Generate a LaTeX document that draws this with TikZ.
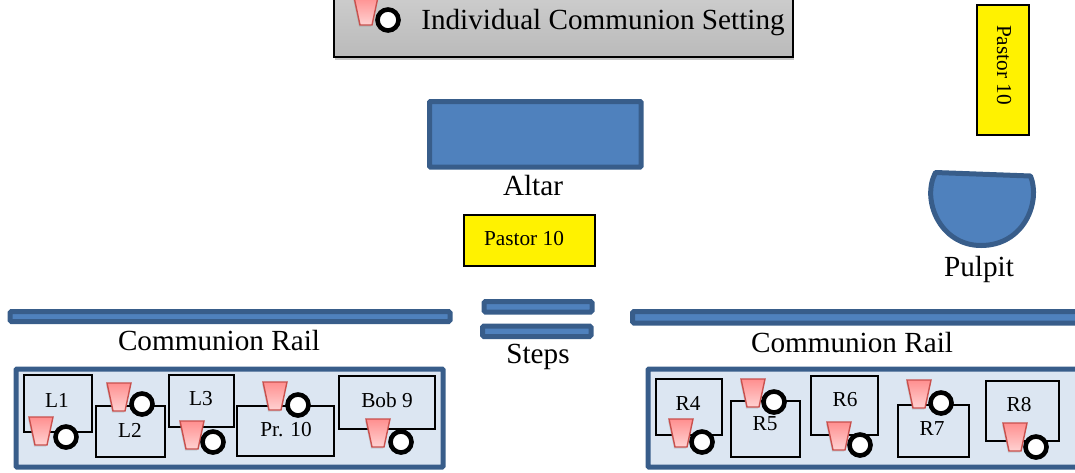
\documentclass[tikz,border=0pt]{standalone}
\usepackage{fontspec}
\setmainfont{Liberation Serif}
\usetikzlibrary{shadows}
\definecolor{furnfill}{HTML}{4F81BD}
\definecolor{furnline}{HTML}{385D8A}
\definecolor{panelfill}{HTML}{DCE6F2}
\definecolor{cupline}{HTML}{C9504D}
\definecolor{cuptop}{HTML}{FF8F8F}
\definecolor{cupbot}{HTML}{FFD2D2}
\tikzset{
	furn/.style={fill=furnfill,draw=furnline,line width=5pt,rounded corners=1pt},
	rail/.style={fill=furnfill,draw=furnline,line width=5pt,rounded corners=1.5pt},
	panel/.style={fill=panelfill,draw=furnline,line width=5pt,rounded corners=1pt},
	seatbox/.style={draw=black,line width=1.5pt},
	seatlabel/.style={font=\fontsize{21.3}{23}\selectfont,inner sep=0pt},
	biglabel/.style={font=\fontsize{29.2}{31}\selectfont,inner sep=0pt},
	pastorbox/.style={fill=yellow,draw=black,line width=2pt},
	cupshape/.style={top color=cuptop,bottom color=cupbot,draw=cupline,line width=1.4pt,
		drop shadow={shadow xshift=-1pt,shadow yshift=-1.5pt,opacity=.25}},
	plate/.style={fill=white,draw=black,line width=4.6pt}
}
\begin{document}
\begin{tikzpicture}[x=1pt,y=-1pt]
			\useasboundingbox (0,0) rectangle (1075,472);
			
			%--- Legend ---
			\draw[top color=black!18,bottom color=black!27,draw=black,line width=2pt,
				drop shadow={shadow xshift=1pt,shadow yshift=-2.5pt,opacity=.45}] (334,-20) rectangle (793,57);
			\draw[cupshape,shift={(366,-3)}] (-12,0) -- (12,0) -- (6,28) -- (-6,28) -- cycle;
			\draw[plate] (388,20) circle (10.5);
			\node[biglabel] (legendtext) at (603,23) {Individual Communion Setting};
			
			%--- Altar, pulpit ---
			\draw[furn] (429.5,101.5) rectangle (641,167);
			\node[biglabel] (altarlabel) at (533,186) {Altar};
			\draw[furn,rounded corners=0pt,line join=round] (935.5,172.5) .. controls (921,200) and (940,245.5) .. (981,245.5)
				.. controls (1024,245.5) and (1041,202) .. (1030.5,176) -- cycle;
			\node[biglabel] (pulpitlabel) at (979,269) {Pulpit};
			
			%--- Pastor ---
			\draw[pastorbox] (464,214.5) rectangle (594.5,265.5);
			\node[seatlabel] (pastormid) at (524,239) {Pastor 10};
			\draw[pastorbox] (977,4.5) rectangle (1029,134.5);
			\node[seatlabel,rotate=-90] (pastorside) at (1004,65) {Pastor 10};
			
			%--- Rails, steps ---
			\draw[rail] (10,311.5) rectangle (450,321.5);
			\draw[rail] (632.5,311.5) rectangle (1085,323);
			\draw[rail] (484,301.5) rectangle (592,312);
			\draw[rail] (482.5,326) rectangle (591,336.5);
			\node[biglabel] (railleft) at (219,341) {Communion Rail};
			\node[biglabel] (railright) at (852,343) {Communion Rail};
			\node[biglabel] (stepslabel) at (538,357) {Steps};
			
			%--- Panels ---
			\draw[panel] (16,369) rectangle (443,467);
			\draw[panel] (648,369) rectangle (1085,467);
			
			%--- Seats ---
			\foreach \name/\xa/\ya/\xb/\yb/\lx/\ly/\txt in {
				seatLa/24/375/92/432/57/400/L1,
				seatLb/96/406/165/457/130/430/L2,
				seatLc/169/375/234/427/201/399/L3,
				seatLd/237/406/334/456/286/430/Pr. 10,
				seatLe/339/376/435/429/387/400/Bob 9,
				seatRa/656/379/722/435/688/403/R4,
				seatRb/731/401/800/457/765/424/R5,
				seatRc/811/376/878/435/845/400/R6,
				seatRd/898/405/969/457/932/429/R7,
				seatRe/986/381/1059/441/1019/405/R8} {
				\draw[seatbox] (\xa,\ya) rectangle (\xb,\yb);
				\node[seatlabel] (\name) at (\lx,\ly) {\txt};
			}
			
			%--- Settings ---
			\foreach \cx/\cy/\px/\py in {
				41/417/66/437, 119/383/142/404, 192/421/213/442, 275/382/298/405, 378/419/401/442,
				681/419/702/442, 753/379/774/402, 839/422/860/445, 919/380/941/403, 1015/423/1036/447} {
				\draw[cupshape,shift={(\cx,\cy)}] (-12,0) -- (12,0) -- (6,28) -- (-6,28) -- cycle;
				\draw[plate] (\px,\py) circle (10.5);
			}
			
		\end{tikzpicture}
\end{document}
